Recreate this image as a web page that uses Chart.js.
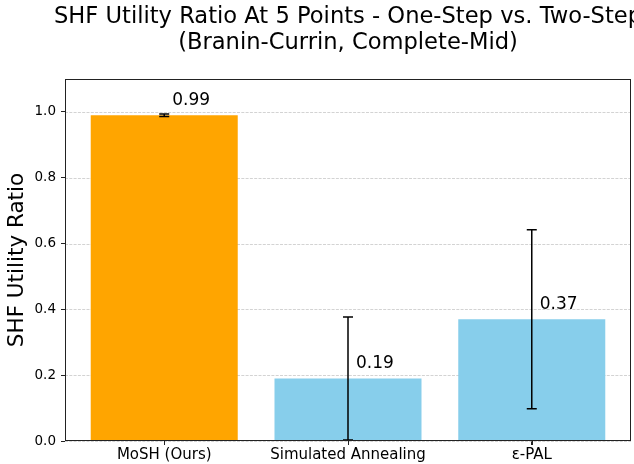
<!DOCTYPE html>
<html>
<head>
<meta charset="utf-8">
<script src="https://cdn.jsdelivr.net/npm/chart.js@4"></script>
<style>
  html, body { margin: 0; padding: 0; background: #fff; }
</style>
</head>
<body>
<canvas id="myChart" width="634" height="464"></canvas>
<script>
// data
var categories = ["MoSH (Ours)", "Simulated Annealing", "ε-PAL"];
var means = [0.99, 0.19, 0.37];
var errs = [0.004, 0.187, 0.272];
var barColors = ["#FFA500", "#87CEEB", "#87CEEB"];
var yTicks = [0.0, 0.2, 0.4, 0.6, 0.8, 1.0];
var titleLines = ["SHF Utility Ratio At 5 Points - One-Step vs. Two-Step", "(Branin-Currin, Complete-Mid)"];

var FONT = "'DejaVu Sans', sans-serif";

// dashed horizontal grid behind the bars
var gridPlugin = {
    id: "dashGrid",
    beforeDatasetsDraw: function(chart) {
        var ctx = chart.ctx, a = chart.chartArea, ys = chart.scales.y;
        ctx.save();
        ctx.strokeStyle = "rgba(176,176,176,0.7)";
        ctx.lineWidth = 0.8;
        ctx.setLineDash([3, 1.3]);
        yTicks.forEach(function(t) {
            var py = Math.round(ys.getPixelForValue(t)) + 0.5;
            ctx.beginPath();
            ctx.moveTo(a.left, py);
            ctx.lineTo(a.right, py);
            ctx.stroke();
        });
        ctx.restore();
    }
};

// error bars, value labels, x tick marks, the box and the title
var overlayPlugin = {
    id: "overlay",
    afterDatasetsDraw: function(chart) {
        var ctx = chart.ctx, ys = chart.scales.y, xs = chart.scales.x;
        var a = chart.chartArea;
        var meta = chart.getDatasetMeta(0);
        ctx.save();
        ctx.strokeStyle = "#000";
        ctx.lineWidth = 1.5;
        meta.data.forEach(function(bar, i) {
            var x = bar.x;
            var top = ys.getPixelForValue(means[i] + errs[i]);
            var bot = ys.getPixelForValue(means[i] - errs[i]);
            ctx.beginPath();
            ctx.moveTo(x, top); ctx.lineTo(x, bot);
            ctx.moveTo(x - 5, top); ctx.lineTo(x + 5, top);
            ctx.moveTo(x - 5, bot); ctx.lineTo(x + 5, bot);
            ctx.stroke();
        });
        ctx.fillStyle = "#000";
        ctx.font = "17px " + FONT;
        ctx.textAlign = "left";
        ctx.textBaseline = "alphabetic";
        meta.data.forEach(function(bar, i) {
            ctx.fillText(means[i].toFixed(2), bar.x + 8, ys.getPixelForValue(means[i]) - 10);
        });

        ctx.strokeStyle = "#222";
        ctx.lineWidth = 1;
        categories.forEach(function(c, i) {
            var px = Math.round(xs.getPixelForValue(i)) + 0.5;
            ctx.beginPath();
            ctx.moveTo(px, a.bottom);
            ctx.lineTo(px, a.bottom + 4);
            ctx.stroke();
        });
        ctx.strokeRect(a.left + 0.5, a.top + 0.5, a.right - a.left - 1, a.bottom - a.top - 1);

        ctx.fillStyle = "#000";
        ctx.font = "22.6px " + FONT;
        ctx.textAlign = "center";
        ctx.textBaseline = "middle";
        var cx = (a.left + a.right) / 2;
        titleLines.forEach(function(t, i) {
            ctx.fillText(t, cx, 17.6 + i * 25.2);
        });
        ctx.restore();
    }
};

var ctx = document.getElementById("myChart").getContext("2d");
var myChart = new Chart(ctx, {
    type: "bar",
    data: {
        datasets: [{
            data: means.map(function(v, i) { return { x: i, y: v }; }),
            backgroundColor: barColors,
            borderWidth: 0,
            barPercentage: 0.8,
            categoryPercentage: 1.0
        }]
    },
    options: {
        responsive: false,
        animation: false,
        devicePixelRatio: 1,
        layout: { padding: { left: 0, right: 3, top: 79, bottom: 0 } },
        plugins: {
            legend: { display: false },
            tooltip: { enabled: false },
            title: { display: false }
        },
        scales: {
            x: {
                type: "linear",
                min: -0.54,
                max: 2.54,
                offset: false,
                afterBuildTicks: function(scale) {
                    scale.ticks = categories.map(function(c, i) { return { value: i }; });
                },
                afterFit: function(scale) { scale.height = 23; },
                grid: { offset: false, drawOnChartArea: false, drawTicks: true, tickLength: 4, tickColor: "#222", tickWidth: 1 },
                border: { display: false },
                ticks: {
                    color: "#000",
                    padding: 1,
                    maxRotation: 0,
                    autoSkip: false,
                    font: { family: FONT, size: 15 },
                    callback: function(v) { return categories[v]; }
                }
            },
            y: {
                min: 0,
                max: 1.1,
                afterBuildTicks: function(scale) {
                    scale.ticks = yTicks.map(function(t) { return { value: t }; });
                },
                afterFit: function(scale) { scale.width = 65; },
                grid: { drawOnChartArea: false, drawTicks: true, tickLength: 4, tickColor: "#222", tickWidth: 1 },
                border: { display: false },
                title: {
                    display: true,
                    text: "SHF Utility Ratio",
                    color: "#000",
                    font: { family: FONT, size: 21.5 },
                    padding: { top: 5, bottom: 0 }
                },
                ticks: {
                    color: "#000",
                    padding: 5,
                    font: { family: FONT, size: 13.5 },
                    callback: function(v) { return Number(v).toFixed(1); }
                }
            }
        }
    },
    plugins: [gridPlugin, overlayPlugin]
});
</script>
</body>
</html>
